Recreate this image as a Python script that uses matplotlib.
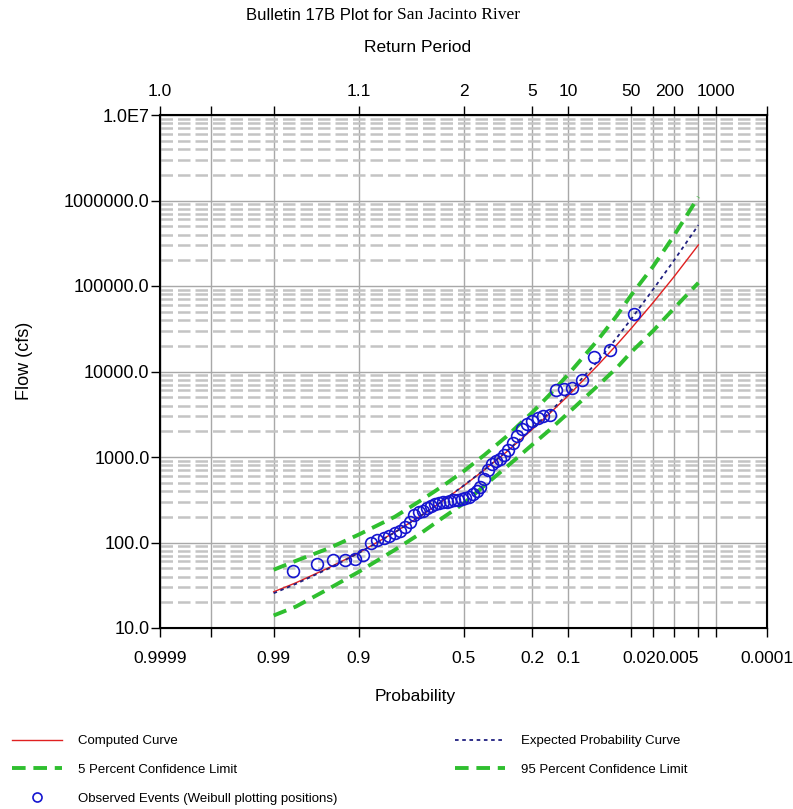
import matplotlib
matplotlib.use("Agg")
import matplotlib.pyplot as plt
from matplotlib.ticker import LogLocator, NullFormatter
from matplotlib.lines import Line2D
import numpy as np
from statistics import NormalDist

plt.rcParams['font.family'] = ['Liberation Sans', 'DejaVu Sans']

# Axis ticks
prob_ticks = [0.9999, 0.999, 0.99, 0.9, 0.5, 0.2, 0.1, 0.02, 0.01, 0.005, 0.002, 0.001, 0.0001]
prob_labels = ['0.9999', '', '0.99', '0.9', '0.5', '0.2', '0.1', '0.02', '', '0.005', '', '', '0.0001']
period_labels = ['1.0', '', '', '1.1', '2', '5', '10', '50', '', '200', '', '1000', '']
# labels the original program draws a little off their tick (pixels)
label_shift_bottom = {'0.02': 8, '0.005': 3}
label_shift_top = {'200': -4}
flow_ticks = [10, 100, 1000, 10000, 100000, 1000000, 10000000]
flow_labels = ['10.0', '100.0', '1000.0', '10000.0', '100000.0', '1000000.0', '1.0E7']

# Frequency curves (exceedance probability -> flow, cfs)
curve_prob = [0.99, 0.98, 0.95, 0.9, 0.8, 0.7, 0.6, 0.5, 0.4, 0.3, 0.2, 0.15,
              0.1, 0.05, 0.03, 0.02, 0.01, 0.005, 0.002]
computed = [26.5, 33.8, 51, 76, 132, 205, 307, 459, 704, 1140, 2100, 3100,
            5200, 11800, 20700, 31800, 64500, 127000, 302000]
expected = [25.5, 32.8, 50, 75.5, 131, 205, 307, 462, 710, 1160, 2160, 3220,
            5500, 13200, 25000, 41000, 92000, 197000, 516000]
conf_05 = [48, 61, 86, 124, 200, 310, 458, 680, 1050, 1730, 3320, 5130,
           9200, 23300, 45300, 78000, 171000, 384000, 1100000]
conf_95 = [14, 17.8, 29, 45.5, 82, 128, 195, 285, 460, 760, 1390, 2000,
           3260, 6800, 11100, 16800, 30100, 54300, 109000]

# Observed annual peaks, largest first
observed = [47000, 17800, 14800, 8000, 6400, 6200, 6000, 3100, 3000, 2850,
            2650, 2400, 2100, 1750, 1450, 1200, 1050, 960, 900, 830,
            700, 560, 440, 400, 370, 345, 330, 325, 315, 310,
            305, 300, 295, 290, 280, 270, 255, 235, 225, 212,
            175, 150, 138, 128, 120, 114, 108, 100, 71, 64,
            63, 62, 56, 46]
rank = np.arange(1, len(observed) + 1)
weibull = rank / (len(observed) + 1)

_nd = NormalDist()
_fwd = np.vectorize(lambda q: _nd.inv_cdf(1 - q), otypes=[float])
_inv = np.vectorize(lambda z: 1 - _nd.cdf(z), otypes=[float])


def prob_fwd(p):
    p = np.clip(np.asarray(p, dtype=float), 1e-9, 1 - 1e-9)
    return _fwd(p)


def prob_inv(z):
    return _inv(np.asarray(z, dtype=float))


fig = plt.figure(figsize=(7.93, 8.09), dpi=100)
ax = fig.add_axes([160 / 793, 1 - 628 / 809, 607 / 793, 513 / 809])

ax.set_xscale('function', functions=(prob_fwd, prob_inv))
ax.set_yscale('log')
ax.set_xlim(0.0001, 0.9999)
ax.set_ylim(10, 1e7)

grid_col = '#a8a8a8'
tick_len, tick_fs = 6.5, 12.5
ax.set_xticks(prob_ticks, [l if l not in label_shift_bottom else '' for l in prob_labels])
ax.set_yticks(flow_ticks, flow_labels)
ax.yaxis.set_minor_locator(LogLocator(base=10, subs=range(2, 10)))
ax.yaxis.set_minor_formatter(NullFormatter())
ax.grid(True, axis='x', which='major', color=grid_col, lw=1.0)
ax.grid(True, axis='y', which='major', color=grid_col, lw=1.0)
ax.grid(True, axis='y', which='minor', color='#c4c4c4', lw=1.8, ls=(0, (5, 2)))
ax.set_axisbelow(True)

ax.tick_params(axis='x', which='major', direction='out', length=tick_len, width=1,
               labelsize=tick_fs, pad=10.4)
ax.tick_params(axis='y', which='major', direction='out', length=tick_len, width=1,
               labelsize=13, pad=1)
ax.tick_params(axis='y', which='minor', length=0)
for s in ax.spines.values():
    s.set_linewidth(1.5)

ax.plot(curve_prob, computed, color='#e02020', lw=1.0, zorder=3)
ax.plot(curve_prob, expected, color='#202080', lw=1.3, ls=(0, (2, 2)), zorder=3)
ax.plot(curve_prob, conf_05, color='#2fbf2f', lw=2.8, ls=(0, (3.5, 2)), zorder=3)
ax.plot(curve_prob, conf_95, color='#2fbf2f', lw=2.8, ls=(0, (3.5, 2)), zorder=3)
ax.plot(weibull, observed, ls='none', marker='o', ms=8.5, mfc='none',
        mec='#1515d0', mew=1.2, zorder=4)

top = ax.twiny()
top.set_xscale('function', functions=(prob_fwd, prob_inv))
top.set_xlim(ax.get_xlim())
top.set_xticks(prob_ticks, [l if l not in label_shift_top else '' for l in period_labels])
top.tick_params(axis='x', direction='out', length=tick_len, width=1, labelsize=tick_fs, pad=4.7)

# the shifted labels
for p, lab in zip(prob_ticks, prob_labels):
    if lab in label_shift_bottom:
        ax.annotate(lab, xy=(p, 0), xycoords=('data', 'axes fraction'),
                    xytext=(label_shift_bottom[lab] * 0.72, -(tick_len + 10.4)),
                    textcoords='offset points', ha='center', va='top', fontsize=tick_fs)
for p, lab in zip(prob_ticks, period_labels):
    if lab in label_shift_top:
        ax.annotate(lab, xy=(p, 1), xycoords=('data', 'axes fraction'),
                    xytext=(label_shift_top[lab] * 0.72, tick_len + 4.7),
                    textcoords='offset points', ha='center', va='bottom', fontsize=tick_fs)

ax.set_ylabel('Flow (cfs)', fontsize=13)
ax.yaxis.set_label_coords(-0.21, 0.52)
fig.text(415 / 793, 1 - 697 / 809, 'Probability', fontsize=12.5, ha='center', va='center')
fig.text(418 / 793, 1 - 48 / 809, 'Return Period', fontsize=12.5, ha='center', va='center')
fig.text(393 / 793, 1 - 15 / 809, 'Bulletin 17B Plot for', fontsize=12, ha='right', va='center')
fig.text(397 / 793, 1 - 15 / 809, 'San Jacinto River', fontsize=12.5, ha='left', va='center',
         family=['Liberation Serif', 'DejaVu Serif'])

handles = [
    Line2D([], [], color='#e02020', lw=1.0),
    Line2D([], [], color='#2fbf2f', lw=2.8, ls=(0, (3.5, 2))),
    Line2D([], [], ls='none', marker='o', ms=6.5, mfc='none', mec='#1515d0', mew=1.2),
    Line2D([], [], color='#202080', lw=1.3, ls=(0, (2, 2))),
    Line2D([], [], color='#2fbf2f', lw=2.8, ls=(0, (3.5, 2))),
]
labels = ['Computed Curve', '5 Percent Confidence Limit',
          'Observed Events (Weibull plotting positions)',
          'Expected Probability Curve', '95 Percent Confidence Limit']
fig.legend(handles, labels, loc='upper left', bbox_to_anchor=(12 / 793, 1 - 735 / 809),
           ncol=2, frameon=False, fontsize=9.5, handlelength=3.8, handletextpad=1.2,
           columnspacing=8.9, labelspacing=1.25, borderpad=0, borderaxespad=0)

fig.savefig('out.png', dpi=100)
